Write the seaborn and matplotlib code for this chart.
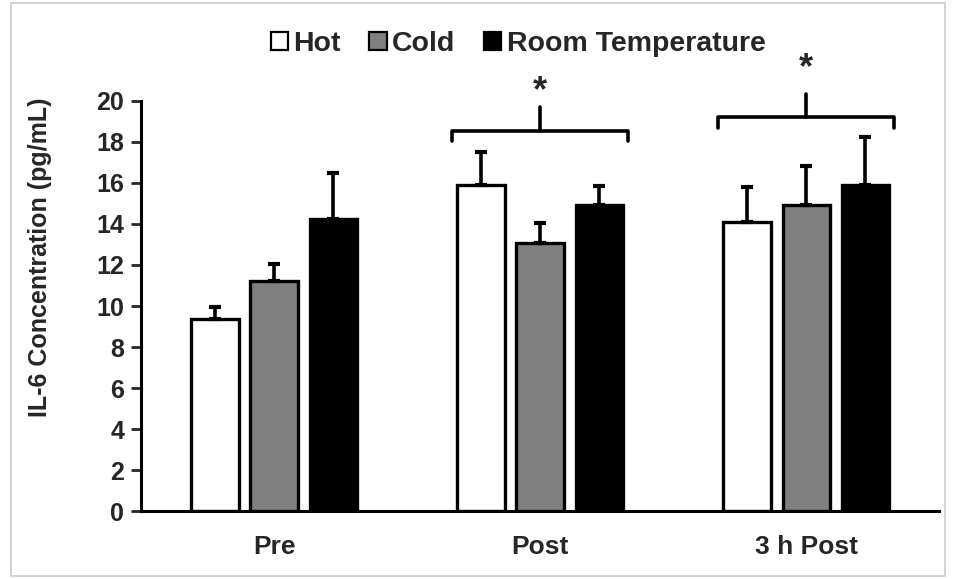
import matplotlib
matplotlib.use("Agg")
import matplotlib.pyplot as plt
from matplotlib.patches import Patch, Rectangle
import seaborn as sns
import pandas as pd

# values
timepoints = ["Pre", "Post", "3 h Post"]
conditions = ["Hot", "Cold", "Room Temperature"]
hot_mean = [9.35, 15.9, 14.1]
cold_mean = [11.2, 13.05, 14.95]
room_mean = [14.25, 14.95, 15.9]
hot_sd = [0.62, 1.6, 1.68]
cold_sd = [0.85, 0.98, 1.87]
room_sd = [2.23, 0.92, 2.33]

# significance brackets: (timepoint, bracket height, star height)
sig_marks = [("Post", 18.55, 20.45), ("3 h Post", 19.2, 21.6)]

colors = ["white", "#808080", "black"]

df = pd.DataFrame({
    "time": timepoints * 3,
    "cond": [c for c in conditions for _ in timepoints],
    "value": hot_mean + cold_mean + room_mean,
})
errs = {"Hot": hot_sd, "Cold": cold_sd, "Room Temperature": room_sd}

sns.set_style("white")
plt.rcParams["font.family"] = ["Liberation Sans", "DejaVu Sans"]
plt.rcParams["font.weight"] = "bold"

fig = plt.figure(figsize=(9.56, 5.79), dpi=100)
ax = fig.add_axes([0.1475, 0.1174, 0.835, 0.7082])

sns.barplot(data=df, x="time", y="value", hue="cond", order=timepoints,
            hue_order=conditions, palette=colors, width=0.667, gap=0.2,
            edgecolor="black", linewidth=2.4, errorbar=None, legend=False, ax=ax)

# one-sided error bars on top of each bar
for cont, cond in zip(ax.containers, conditions):
    xs = [b.get_x() + b.get_width() / 2 for b in cont]
    ys = [b.get_height() for b in cont]
    ax.errorbar(xs, ys, yerr=[[0] * len(ys), errs[cond]], fmt="none",
                ecolor="black", elinewidth=2.6, capsize=4.5, capthick=3, zorder=1)

# brackets with stars
for tp, yb, ys in sig_marks:
    xc = timepoints.index(tp)
    half = 0.33
    ax.plot([xc - half, xc - half, xc + half, xc + half],
            [yb - 0.5, yb, yb, yb - 0.5], color="black", lw=2.6,
            clip_on=False, solid_joinstyle="round")
    ax.plot([xc, xc], [yb, yb + 1.15], color="black", lw=2.6, clip_on=False)
    ax.text(xc, ys, "*", ha="center", va="center", fontsize=26,
            fontweight="bold", clip_on=False)

ax.set_ylim(0, 20)
ax.set_xlim(-0.5, 2.5)
ax.set_yticks(range(0, 21, 2))
ax.set_xlabel("")
ax.set_ylabel("IL-6 Concentration (pg/mL)", fontsize=18, fontweight="bold")
ax.yaxis.set_label_coords(-0.112, 0.62)
ax.tick_params(axis="y", direction="out", length=7, width=2, labelsize=18, pad=5, left=True)
ax.tick_params(axis="x", length=0, labelsize=19, pad=17)
for lbl in ax.get_xticklabels() + ax.get_yticklabels():
    lbl.set_fontweight("bold")
sns.despine(ax=ax, top=True, right=True)
for side in ["left", "bottom"]:
    ax.spines[side].set_linewidth(2.2)
    ax.spines[side].set_color("black")

handles = [Patch(facecolor=c, edgecolor="black", linewidth=1.6) for c in colors]
fig.legend(handles, conditions, loc="center", bbox_to_anchor=(0.542, 0.924),
           ncol=3, frameon=False, handlelength=0.6, handleheight=0.6,
           handletextpad=0.2, columnspacing=1.0,
           prop={"size": 20.5, "weight": "bold"})

# thin grey frame around the whole picture
fig.patches.append(Rectangle((0.011, 0.006), 0.978, 0.988, transform=fig.transFigure,
                             fill=False, edgecolor="#cccccc", linewidth=1.2))

fig.savefig("out.png", dpi=100)
